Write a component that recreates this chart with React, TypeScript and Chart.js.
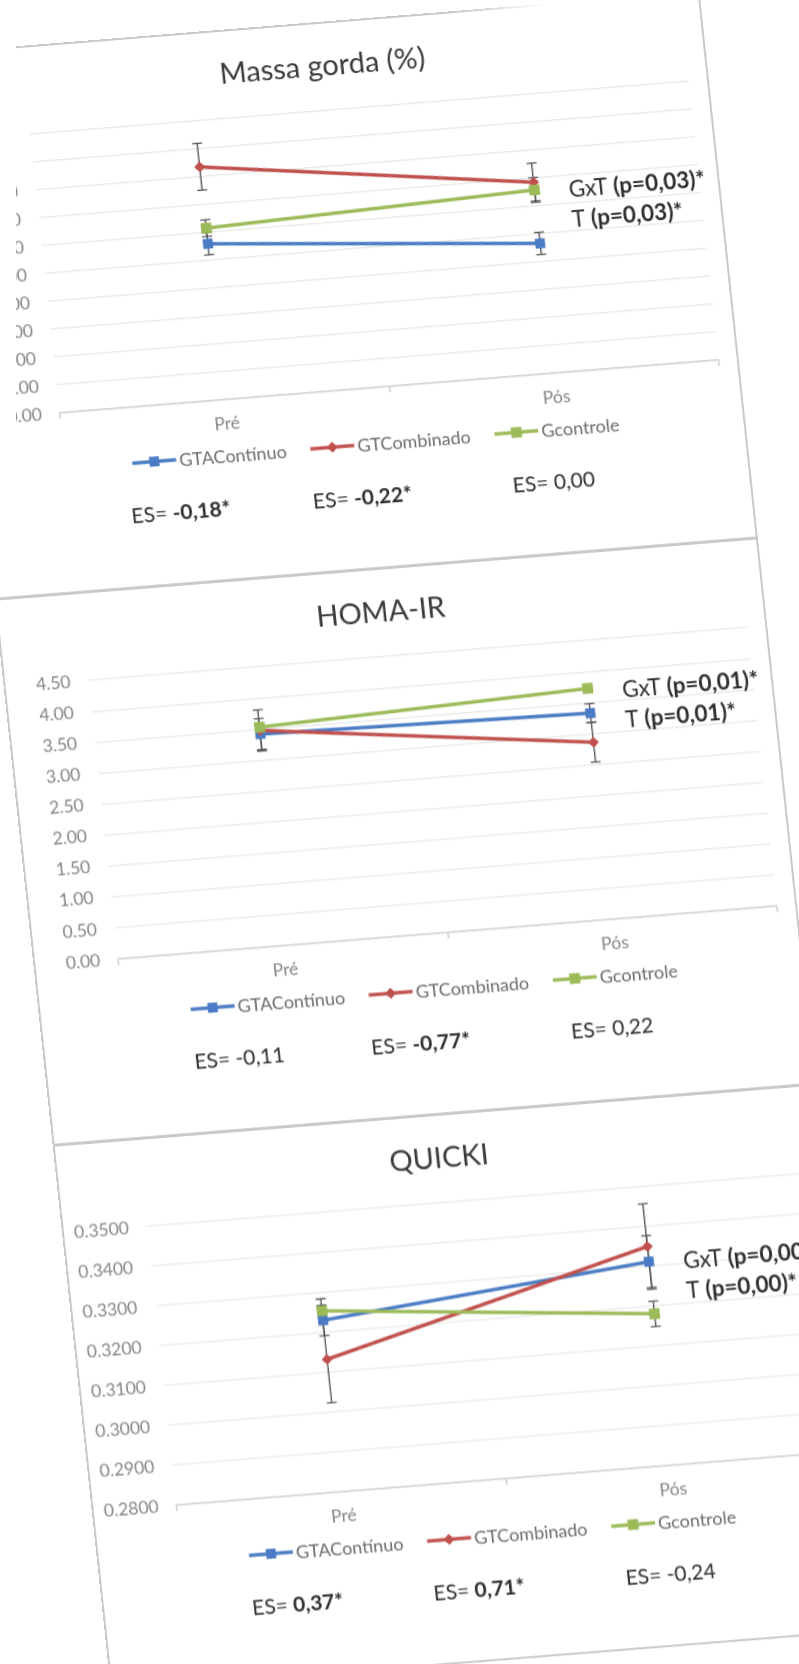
import React, { useEffect, useRef } from "react";
import { Chart, registerables } from "chart.js";

Chart.register(...registerables);

// Shared categories and group names
const categories = ["Pré", "Pós"];
const groupNames = ["GTAContínuo", "GTCombinado", "Gcontrole"];

// Massa gorda (%) — means and error-bar half lengths
const massaContinuo = [28.0, 23.3];
const massaContinuoSd = [2.0, 2.0];
const massaCombinado = [41.8, 34.3];
const massaCombinadoSd = [4.2, 3.4];
const massaControle = [30.8, 32.9];
const massaControleSd = [1.5, 2.2];
const massaTicks = ["0.00", "5.00", "10.00", "15.00", "20.00", "25.00", "30.00", "35.00", "40.00", "45.00", "50.00"];
const massaEs = ["-0,18*", "-0,22*", "0,00"];
const massaTests = ["GxT (p=0,03)*", "T (p=0,03)*"];

// HOMA-IR
const homaContinuo = [3.42, 3.33];
const homaContinuoSd = [0.25, 0.15];
const homaCombinado = [3.48, 2.86];
const homaCombinadoSd = [0.33, 0.32];
const homaControle = [3.53, 3.73];
const homaControleSd = [0.05, 0.06];
const homaTicks = ["0.00", "0.50", "1.00", "1.50", "2.00", "2.50", "3.00", "3.50", "4.00", "4.50"];
const homaEs = ["-0,11", "-0,77*", "0,22"];
const homaTests = ["GxT (p=0,01)*", "T (p=0,01)*"];

// QUICKI
const quickiContinuo = [0.3231, 0.3312];
const quickiContinuoSd = [0.0038, 0.0065];
const quickiCombinado = [0.3133, 0.335];
const quickiCombinadoSd = [0.0109, 0.0107];
const quickiControle = [0.3255, 0.3181];
const quickiControleSd = [0.003, 0.0032];
const quickiTicks = ["0.2800", "0.2900", "0.3000", "0.3100", "0.3200", "0.3300", "0.3400", "0.3500"];
const quickiEs = ["0,37*", "0,71*", "-0,24"];
const quickiTests = ["GxT (p=0,00)*", "T (p=0,00)*"];

const FONT = 'Lato, "Open Sans", "DejaVu Sans", sans-serif';
const BLUE = "#4A7BC4";
const RED = "#C0504D";
const GREEN = "#9BBB59";
const FRAME = "#c9c9c9";

// Panel geometry (canvas pixels)
const W = 766;
const H = 550;
const PLOT = { left: 85, right: 746, top: 89, bottom: 369 };
const X_AXIS_H = 40;
const PANEL_TOPS = [18, 567, 1116];
const LEGEND_Y = 425;
const ES_Y = 478;

type Marker = "rect" | "rectRot";
type Series = { label: string; values: number[]; sd: number[]; color: string; marker: Marker; radius: number };
type Spec = {
  title: string;
  series: Series[];
  min: number;
  max: number;
  step: number;
  ticks: string[];
  es: string[];
  tests: string[];
  testsY: number;
};

function groups(a: number[], aSd: number[], b: number[], bSd: number[], c: number[], cSd: number[]): Series[] {
  return [
    { label: groupNames[0], values: a, sd: aSd, color: BLUE, marker: "rect", radius: 7 },
    { label: groupNames[1], values: b, sd: bSd, color: RED, marker: "rectRot", radius: 5.5 },
    { label: groupNames[2], values: c, sd: cSd, color: GREEN, marker: "rect", radius: 7.5 },
  ];
}

const panels: Spec[] = [
  {
    title: "Massa gorda (%)",
    series: groups(massaContinuo, massaContinuoSd, massaCombinado, massaCombinadoSd, massaControle, massaControleSd),
    min: 0,
    max: 50,
    step: 5,
    ticks: massaTicks,
    es: massaEs,
    tests: massaTests,
    testsY: 188,
  },
  {
    title: "HOMA-IR",
    series: groups(homaContinuo, homaContinuoSd, homaCombinado, homaCombinadoSd, homaControle, homaControleSd),
    min: 0,
    max: 4.5,
    step: 0.5,
    ticks: homaTicks,
    es: homaEs,
    tests: homaTests,
    testsY: 142,
  },
  {
    title: "QUICKI",
    series: groups(quickiContinuo, quickiContinuoSd, quickiCombinado, quickiCombinadoSd, quickiControle, quickiControleSd),
    min: 0.28,
    max: 0.35,
    step: 0.01,
    ticks: quickiTicks,
    es: quickiEs,
    tests: quickiTests,
    testsY: 167,
  },
];

function drawMarker(ctx: CanvasRenderingContext2D, marker: Marker, x: number, y: number, r: number, color: string) {
  ctx.fillStyle = color;
  ctx.beginPath();
  if (marker === "rect") {
    const s = r * Math.SQRT1_2;
    ctx.rect(x - s, y - s, 2 * s, 2 * s);
  } else {
    ctx.moveTo(x, y - r);
    ctx.lineTo(x + r, y);
    ctx.lineTo(x, y + r);
    ctx.lineTo(x - r, y);
    ctx.closePath();
  }
  ctx.fill();
}

// "GxT (p=0,03)*" -> ["GxT ", "(p=0,03)*"]
function splitTest(text: string): [string, string] {
  const i = text.indexOf("(");
  return i >= 0 ? [text.slice(0, i), text.slice(i)] : [text, ""];
}

function makeDecorations(spec: Spec) {
  return {
    id: "decorations",
    // error bars sit underneath lines and markers
    beforeDatasetsDraw(chart: any) {
      const ctx: CanvasRenderingContext2D = chart.ctx;
      const yScale = chart.scales.y;
      ctx.save();
      ctx.strokeStyle = "#4d4d4d";
      ctx.lineWidth = 1.3;
      spec.series.forEach((s, i) => {
        const meta = chart.getDatasetMeta(i);
        meta.data.forEach((pt: any, j: number) => {
          const x = pt.x;
          const hi = yScale.getPixelForValue(s.values[j] + s.sd[j]);
          const lo = yScale.getPixelForValue(s.values[j] - s.sd[j]);
          ctx.beginPath();
          ctx.moveTo(x, hi);
          ctx.lineTo(x, lo);
          ctx.moveTo(x - 5, hi);
          ctx.lineTo(x + 5, hi);
          ctx.moveTo(x - 5, lo);
          ctx.lineTo(x + 5, lo);
          ctx.stroke();
        });
      });
      ctx.restore();
    },
    afterDraw(chart: any) {
      const ctx: CanvasRenderingContext2D = chart.ctx;
      const area = chart.chartArea;
      const cx = (area.left + area.right) / 2;
      ctx.save();
      ctx.textBaseline = "middle";

      // Title
      ctx.font = `400 29px ${FONT}`;
      ctx.fillStyle = "#3a3a3a";
      ctx.textAlign = "center";
      ctx.fillText(spec.title, W / 2, 45);

      // Legend: line + marker + name
      ctx.textAlign = "left";
      ctx.font = `400 18px ${FONT}`;
      const symLen = 44;
      const symGap = 3;
      const itemGap = 24;
      const widths = spec.series.map((s) => symLen + symGap + ctx.measureText(s.label).width);
      const total = widths.reduce((a, b) => a + b, 0) + itemGap * (widths.length - 1);
      let lx = cx - 19.5 - total / 2;
      spec.series.forEach((s, i) => {
        ctx.strokeStyle = s.color;
        ctx.lineWidth = 3.5;
        ctx.beginPath();
        ctx.moveTo(lx, LEGEND_Y);
        ctx.lineTo(lx + symLen, LEGEND_Y);
        ctx.stroke();
        drawMarker(ctx, s.marker, lx + symLen / 2, LEGEND_Y, s.radius, s.color);
        ctx.fillStyle = "#6b6b6b";
        ctx.fillText(s.label, lx + symLen + symGap, LEGEND_Y + 1);
        lx += widths[i] + itemGap;
      });

      // Effect sizes under the legend
      const esOffsets = [-220.5, -38.5, 153.5];
      spec.es.forEach((val, i) => {
        const bold = val.includes("*");
        const head = "ES= ";
        ctx.font = `400 21px ${FONT}`;
        const w1 = ctx.measureText(head).width;
        ctx.font = `${bold ? 700 : 400} 21px ${FONT}`;
        const w2 = ctx.measureText(val).width;
        const x0 = cx + esOffsets[i] - (w1 + w2) / 2;
        ctx.fillStyle = "#2e2e2e";
        ctx.font = `400 21px ${FONT}`;
        ctx.fillText(head, x0, ES_Y);
        ctx.font = `${bold ? 700 : 400} 21px ${FONT}`;
        ctx.fillText(val, x0 + w1, ES_Y);
      });

      // Interaction / time tests
      spec.tests.forEach((t, i) => {
        const [head, rest] = splitTest(t);
        const y = spec.testsY + i * 30;
        const x0 = 615;
        ctx.fillStyle = "#2e2e2e";
        ctx.font = `400 22.5px ${FONT}`;
        ctx.fillText(head, x0, y);
        const w = ctx.measureText(head).width;
        ctx.font = `700 22.5px ${FONT}`;
        ctx.fillText(rest, x0 + w, y);
      });
      ctx.restore();
    },
  };
}

function Panel({ spec }: { spec: Spec }) {
  const ref = useRef<HTMLCanvasElement>(null);
  useEffect(() => {
    if (!ref.current) return;
    const tickFont = { family: FONT, size: 17.5 };
    const chart = new Chart(ref.current, {
      type: "line",
      data: {
        labels: categories,
        datasets: spec.series.map((s, i) => ({
          label: s.label,
          data: s.values,
          borderColor: s.color,
          backgroundColor: s.color,
          borderWidth: 3.5,
          pointStyle: s.marker,
          pointRadius: s.radius,
          pointBorderWidth: 0,
          pointBackgroundColor: s.color,
          pointBorderColor: s.color,
          tension: 0,
          order: 2 - i,
        })),
      },
      options: {
        animation: false,
        responsive: false,
        devicePixelRatio: 1,
        events: [],
        layout: {
          padding: {
            left: 0,
            right: W - PLOT.right,
            top: PLOT.top,
            bottom: H - PLOT.bottom - X_AXIS_H,
          },
        },
        plugins: {
          legend: { display: false },
          title: { display: false },
          tooltip: { enabled: false },
        },
        scales: {
          x: {
            type: "category",
            offset: true,
            grid: {
              display: true,
              drawOnChartArea: false,
              drawTicks: true,
              tickLength: 6,
              color: "#cdcdcd",
              lineWidth: 1.5,
              offset: true,
            },
            border: { display: true, color: "#cdcdcd", width: 1.5 },
            ticks: { color: "#858585", font: tickFont, padding: 8, maxRotation: 0, autoSkip: false },
            afterFit: (s: any) => {
              s.height = X_AXIS_H;
            },
          },
          y: {
            type: "linear",
            min: spec.min,
            max: spec.max,
            grid: { color: "#e6e6e6", lineWidth: 1.2, drawTicks: false },
            border: { display: false },
            ticks: {
              stepSize: spec.step,
              padding: 18,
              color: "#858585",
              font: tickFont,
              callback: (v: any, i: number) => spec.ticks[i] ?? String(v),
            },
            afterFit: (s: any) => {
              s.width = PLOT.left;
            },
          },
        },
      } as any,
      plugins: [makeDecorations(spec)],
    });
    return () => chart.destroy();
  }, [spec]);
  return <canvas ref={ref} width={W} height={H} style={{ position: "absolute", left: 0, top: 0, width: W, height: H }} />;
}

export default function App() {
  return (
    <div style={{ position: "fixed", left: 0, top: 0, width: 799, height: 1664, overflow: "hidden", background: "#fff" }}>
      <div
        style={{
          position: "absolute",
          left: 0,
          top: 0,
          width: 799,
          height: 1700,
          transformOrigin: "400px 830px",
          transform: "rotate(-4.6deg) skewX(1.5deg)",
        }}
      >
        {panels.map((spec, i) => (
          <div key={spec.title} style={{ position: "absolute", left: 21, top: PANEL_TOPS[i], width: W, height: H }}>
            <Panel spec={spec} />
            <div
              style={{
                position: "absolute",
                left: 0,
                top: 0,
                width: W,
                height: H,
                boxSizing: "border-box",
                border: `2px solid ${FRAME}`,
                borderTopColor: i === 0 ? "transparent" : FRAME,
                pointerEvents: "none",
              }}
            />
            {i === 0 && (
              // the first frame's top edge washes out towards the right
              <div
                style={{
                  position: "absolute",
                  left: 0,
                  top: 0,
                  width: W,
                  height: 2,
                  background: `linear-gradient(to right, ${FRAME} 0%, ${FRAME} 68%, rgba(201,201,201,0) 80%)`,
                }}
              />
            )}
          </div>
        ))}
      </div>
      {/* the sheet's left edge is trimmed beside the first panel */}
      <div style={{ position: "absolute", left: 0, top: 0, width: 16, height: 590, background: "#fff" }} />
    </div>
  );
}
